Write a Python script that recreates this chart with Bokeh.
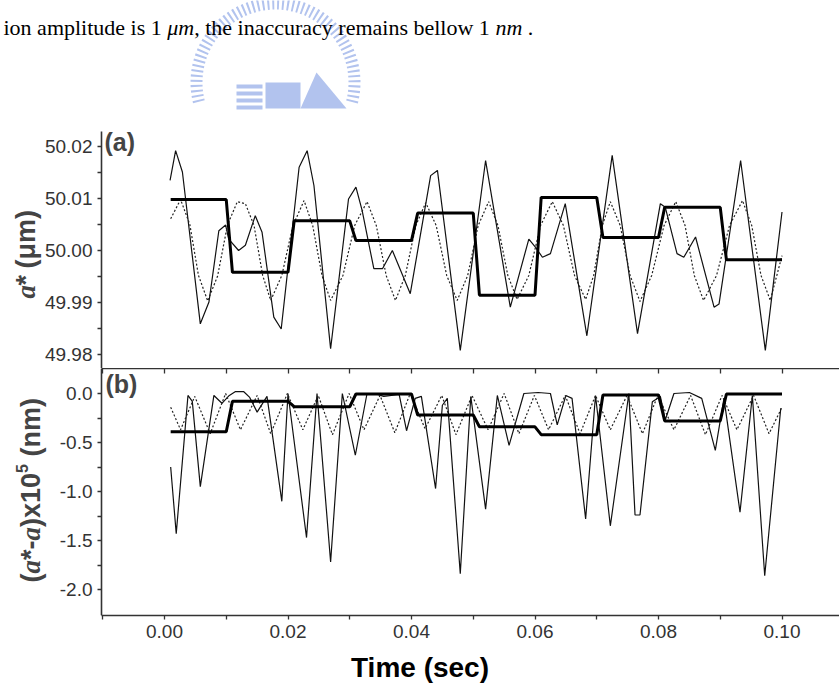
import math
from bokeh.plotting import figure
from bokeh.models import Range1d, LinearAxis, FixedTicker, PrintfTickFormatter, Label
from bokeh.layouts import column
from bokeh.embed import file_html
from bokeh.resources import INLINE

# ---------------- data ----------------
# panel (a): a* (um)
ta_solid = [0.0009, 0.0018, 0.0029, 0.0058, 0.0072, 0.0088, 0.0099, 0.0104, 0.0120, 0.0131,
            0.0147, 0.0158, 0.0177, 0.0189, 0.0218, 0.0231, 0.0242, 0.0269, 0.0298, 0.0310,
            0.0320, 0.0339, 0.0353, 0.0369, 0.0398, 0.0431, 0.0442, 0.0479, 0.0520, 0.0560,
            0.0590, 0.0601, 0.0612, 0.0625, 0.0649, 0.0684, 0.0725, 0.0766, 0.0803, 0.0811,
            0.0830, 0.0841, 0.0860, 0.0890, 0.0898, 0.0933, 0.0973, 0.1000]
va_solid = [50.0135, 50.0192, 50.0151, 49.9859, 49.9901, 50.0038, 50.0049, 50.0022, 50.0000, 50.0010,
            50.0067, 50.0035, 49.9872, 49.9849, 50.0160, 50.0192, 50.0125, 49.9811, 50.0099, 50.0122,
            50.0077, 49.9965, 49.9965, 50.0000, 49.9917, 50.0144, 50.0154, 49.9808, 50.0173, 49.9891,
            50.0022, 50.0006, 49.9987, 49.9994, 50.0090, 49.9836, 50.0183, 49.9840, 50.0090, 50.0083,
            49.9994, 49.9987, 50.0026, 49.9891, 49.9897, 50.0173, 49.9808, 50.0074]

ta_dot = [0.0010, 0.0026, 0.0041, 0.0055, 0.0070, 0.0086, 0.0102, 0.0118, 0.0131, 0.0145,
          0.0159, 0.0172, 0.0190, 0.0208, 0.0226, 0.0240, 0.0255, 0.0269, 0.0289, 0.0308,
          0.0328, 0.0343, 0.0359, 0.0374, 0.0390, 0.0407, 0.0423, 0.0440, 0.0457, 0.0474,
          0.0491, 0.0508, 0.0525, 0.0540, 0.0556, 0.0571, 0.0590, 0.0609, 0.0628, 0.0646,
          0.0664, 0.0682, 0.0695, 0.0709, 0.0722, 0.0738, 0.0754, 0.0770, 0.0789, 0.0809,
          0.0828, 0.0843, 0.0858, 0.0873, 0.0894, 0.0915, 0.0936, 0.0951, 0.0966, 0.0981,
          0.1000]
va_dot = [50.0061, 50.0098, 50.0050, 49.9952, 49.9903, 49.9951, 50.0049, 50.0094, 50.0090, 50.0048,
          49.9952, 49.9904, 49.9952, 50.0048, 50.0096, 50.0048, 49.9952, 49.9904, 49.9952, 50.0048,
          50.0094, 50.0048, 49.9952, 49.9904, 49.9952, 50.0048, 50.0092, 50.0048, 49.9952, 49.9904,
          49.9952, 50.0048, 50.0094, 50.0048, 49.9952, 49.9906, 49.9952, 50.0048, 50.0094, 50.0048,
          49.9952, 49.9906, 49.9952, 50.0048, 50.0094, 50.0048, 49.9952, 49.9902, 49.9952, 50.0048,
          50.0094, 50.0048, 49.9952, 49.9904, 49.9952, 50.0048, 50.0096, 50.0048, 49.9952, 49.9904,
          49.9990]

seg_t0 = [0.001, 0.011, 0.021, 0.031, 0.041, 0.051, 0.061, 0.071, 0.081, 0.091]
seg_t1 = [0.010, 0.020, 0.030, 0.040, 0.050, 0.060, 0.070, 0.080, 0.090, 0.100]
step_a = [50.0098, 49.9958, 50.0057, 50.0019, 50.0072, 49.9914, 50.0102, 50.0025, 50.0083, 49.9982]

# panel (b): (a*-a) x 1e5 (nm)
tb_solid = [0.0010, 0.0019, 0.0038, 0.0045, 0.0058, 0.0080, 0.0093, 0.0105, 0.0115, 0.0128,
            0.0138, 0.0150, 0.0166, 0.0190, 0.0200, 0.0230, 0.0247, 0.0269, 0.0288, 0.0309,
            0.0328, 0.0340, 0.0355, 0.0380, 0.0392, 0.0406, 0.0416, 0.0439, 0.0450, 0.0458,
            0.0479, 0.0496, 0.0520, 0.0539, 0.0558, 0.0582, 0.0605, 0.0625, 0.0636, 0.0650,
            0.0660, 0.0682, 0.0698, 0.0722, 0.0752, 0.0762, 0.0770, 0.0790, 0.0803, 0.0811,
            0.0825, 0.0850, 0.0870, 0.0892, 0.0906, 0.0932, 0.0952, 0.0972, 0.0998]
vb_solid = [-0.75, -1.43, -0.02, -0.08, -0.95, -0.02, -0.10, -0.02, 0.02, 0.02,
            -0.04, -0.19, -0.03, -1.10, 0.00, -1.47, 0.00, -1.72, 0.00, -0.63,
            0.00, 0.00, -0.03, -0.01, -0.38, -0.05, -0.03, -0.97, -0.12, -0.05,
            -1.84, -0.03, -1.18, -0.02, -0.53, 0.00, 0.01, 0.00, -0.32, -0.02,
            -0.05, -1.28, -0.02, -1.35, 0.00, -1.24, -1.24, -0.085, -0.03, -0.27,
            0.00, 0.01, -0.05, -0.58, -0.05, -1.21, -0.02, -1.86, -0.15]

tb_dot = [0.0010, 0.0026, 0.0049, 0.0074, 0.0099, 0.0123, 0.0150, 0.0172, 0.0199, 0.0224,
          0.0249, 0.0272, 0.0299, 0.0323, 0.0349, 0.0373, 0.0398, 0.0422, 0.0449, 0.0472,
          0.0498, 0.0524, 0.0550, 0.0574, 0.0599, 0.0622, 0.0649, 0.0673, 0.0698, 0.0722,
          0.0749, 0.0774, 0.0799, 0.0825, 0.0852, 0.0876, 0.0903, 0.0927, 0.0954, 0.0979,
          0.1000]
vb_dot = [-0.14, -0.37, -0.03, -0.41, 0.00, -0.37, -0.02, -0.41, 0.00, -0.37,
          -0.02, -0.42, 0.00, -0.37, -0.02, -0.40, 0.00, -0.36, -0.02, -0.42,
          -0.02, -0.37, 0.00, -0.41, -0.02, -0.37, -0.02, -0.41, -0.02, -0.37,
          -0.02, -0.41, -0.02, -0.37, -0.02, -0.42, -0.02, -0.37, -0.02, -0.41,
          -0.14]

step_b = [-0.39, -0.08, -0.135, -0.005, -0.22, -0.34, -0.42, -0.015, -0.28, -0.005]

x_major = [0.00, 0.02, 0.04, 0.06, 0.08, 0.10]
x_minor = [-0.01, 0.01, 0.03, 0.05, 0.07, 0.09]
ya_major = [49.98, 49.99, 50.00, 50.01, 50.02]
ya_minor = [49.985, 49.995, 50.005, 50.015]
yb_major = [-2.0, -1.5, -1.0, -0.5, 0.0]
yb_minor = [-1.75, -1.25, -0.75, -0.25]

# ---------------- layout geometry (page pixels, page has no margin) ----------------
W = 839
A_H = 368          # figure (a) height; its frame fills it
B_H = 318          # figure (b) height
B_FRAME = 247      # frame height of (b)
AXIS_X = 101       # page x of both y axes


def t_of(px):
    return (px - 164) * 0.02 / 123.5


def va_of(py):
    return 50.0 + (250 - py) * 0.01 / 52


def vb_of(py):
    return -(py - 393) / 98.0


X0, X1 = t_of(0), t_of(W)


def steps(values):
    xs, ys = [], []
    for t0, t1, v in zip(seg_t0, seg_t1, values):
        xs += [t0, t1]
        ys += [v, v]
    return xs, ys


AX = "#333333"
SANS = "Liberation Sans"
SERIF = "Liberation Serif"


def style_axis(ax):
    ax.axis_line_color = AX
    ax.axis_line_width = 1.6
    ax.major_tick_line_color = AX
    ax.minor_tick_line_color = AX
    ax.major_tick_line_width = 1.3
    ax.minor_tick_line_width = 1.3
    ax.major_tick_out = 4
    ax.major_tick_in = 0
    ax.minor_tick_out = 4
    ax.minor_tick_in = 0
    ax.major_label_text_font = SANS
    ax.major_label_text_font_size = "19px"
    ax.major_label_text_color = "#333333"
    ax.major_label_standoff = 5


def vlabel(p, yconv, x_px, y_px, txt, font, sty, size):
    p.add_layout(Label(x=t_of(x_px), y=yconv(y_px), text=txt, text_font=font, text_font_style=sty,
                       text_font_size=f"{size}px", angle=math.pi / 2, text_align="left",
                       text_baseline="middle"))


# ---------------- panel (a) ----------------
pA = figure(width=W, height=A_H, x_range=Range1d(X0, X1), y_range=Range1d(va_of(A_H), va_of(0)),
            output_backend="svg", toolbar_location=None, x_axis_location=None,
            min_border_left=0, min_border_right=0, min_border_top=0, min_border_bottom=0,
            outline_line_color=None, background_fill_color="white", border_fill_color="white")
pA.grid.visible = False
ya = pA.yaxis[0]
style_axis(ya)
ya.ticker = FixedTicker(ticks=ya_major, minor_ticks=ya_minor)
ya.formatter = PrintfTickFormatter(format="%.2f")
ya.fixed_location = t_of(AXIS_X)
ya.bounds = (va_of(A_H), va_of(131))

# watermark of the source page (decoration)
WM = "#b2c3ee"
pA.arc(x=[t_of(275)], y=[va_of(82)], radius=79, radius_units="screen",
       start_angle=-0.25, end_angle=math.pi + 0.25, line_color=WM, line_width=12, line_dash="2 3")
for top in (84, 91, 98, 105):
    pA.quad(left=[t_of(236)], right=[t_of(262)], top=[va_of(top)], bottom=[va_of(top + 4)],
            fill_color=WM, line_color=None)
pA.quad(left=[t_of(265)], right=[t_of(300)], top=[va_of(82)], bottom=[va_of(108)],
        fill_color=WM, line_color=None)
pA.patch(x=[t_of(300), t_of(316), t_of(346)], y=[va_of(108), va_of(72), va_of(108)],
         fill_color=WM, line_color=None)

# header sentence of the source page
HS = 22
hx = 3
pieces = [("ion amplitude is 1", "normal", 7.445), ("\u03bcm", "italic", 1.222),
          (", the inaccuracy remains bellow 1", "normal", 13.691), ("nm", "italic", 1.472),
          (".", "normal", 0.25)]
for txt, sty, em in pieces:
    pA.add_layout(Label(x=t_of(hx), y=va_of(27), text=txt, text_font=SERIF, text_font_style=sty,
                        text_font_size=f"{HS}px", text_color="black", text_align="left",
                        text_baseline="alphabetic"))
    hx += em * HS

pA.line(ta_solid, va_solid, line_color="#111111", line_width=1.2)
pA.line(ta_dot, va_dot, line_color="#222222", line_width=1.2, line_dash="2 2")
xa, ya_s = steps(step_a)
pA.line(xa, ya_s, line_color="black", line_width=3)

pA.add_layout(Label(x=t_of(104), y=va_of(127), text="(a)", text_font=SANS, text_font_style="bold",
                    text_font_size="25px", text_baseline="top", text_align="left"))

LS = 27
vlabel(pA, va_of, 25, 298, "a", SERIF, "bold italic", LS)
vlabel(pA, va_of, 25, 285, "*", SANS, "bold", LS)
vlabel(pA, va_of, 25, 268, "(\u03bcm)", SANS, "bold", LS)

# ---------------- panel (b) ----------------
pB = figure(width=W, height=B_H, x_range=pA.x_range, y_range=Range1d(vb_of(A_H + B_FRAME), vb_of(A_H)),
            output_backend="svg", toolbar_location=None,
            min_border_left=0, min_border_right=0, min_border_top=0, min_border_bottom=B_H - B_FRAME,
            outline_line_color=None, background_fill_color="white", border_fill_color="white")
pB.grid.visible = False
xb = pB.xaxis[0]
style_axis(xb)
xb.ticker = FixedTicker(ticks=x_major, minor_ticks=x_minor)
xb.formatter = PrintfTickFormatter(format="%.2f")
xb.bounds = (t_of(AXIS_X), X1)
xb.axis_label = "Time (sec)"
xb.axis_label_text_font = SANS
xb.axis_label_text_font_style = "bold"
xb.axis_label_text_font_size = "28px"
xb.axis_label_text_color = "black"
xb.axis_label_standoff = 11

yb = pB.yaxis[0]
style_axis(yb)
yb.ticker = FixedTicker(ticks=yb_major, minor_ticks=yb_minor)
yb.formatter = PrintfTickFormatter(format="%.1f")
yb.fixed_location = t_of(AXIS_X)

top_axis = LinearAxis(ticker=FixedTicker(ticks=x_major, minor_ticks=x_minor))
style_axis(top_axis)
top_axis.major_tick_in = 5
top_axis.major_tick_out = 0
top_axis.minor_tick_in = 5
top_axis.minor_tick_out = 0
top_axis.major_label_text_font_size = "0px"
top_axis.major_label_standoff = 0
top_axis.major_label_text_alpha = 0
top_axis.bounds = (t_of(AXIS_X), X1)
pB.add_layout(top_axis, "above")

pB.line(tb_solid, vb_solid, line_color="#111111", line_width=1.2)
pB.line(tb_dot, vb_dot, line_color="#222222", line_width=1.2, line_dash="2 2")
xbs, ybs = steps(step_b)
pB.line(xbs, ybs, line_color="black", line_width=3)

pB.add_layout(Label(x=t_of(105), y=vb_of(369), text="(b)", text_font=SANS, text_font_style="bold",
                    text_font_size="25px", text_baseline="top", text_align="left"))

ypos = 582
for txt, font, sty, size, em, dx in [("(", SANS, "bold", LS, 0.333, 0),
                                     ("a", SERIF, "bold italic", LS, 0.5, 0),
                                     ("*-", SANS, "bold", LS, 0.722, 0),
                                     ("a", SERIF, "bold italic", LS, 0.5, 0),
                                     (")x10", SANS, "bold", LS, 2.001, 0),
                                     ("5", SANS, "bold", 16, 0.556 + 0.47, -9),
                                     ("(nm)", SANS, "bold", LS, 2.166, 0)]:
    vlabel(pB, vb_of, 30 + dx, ypos, txt, font, sty, size)
    ypos -= em * size

layout = column(pA, pB, spacing=0)
open("out.html", "w").write(file_html(layout, INLINE))
